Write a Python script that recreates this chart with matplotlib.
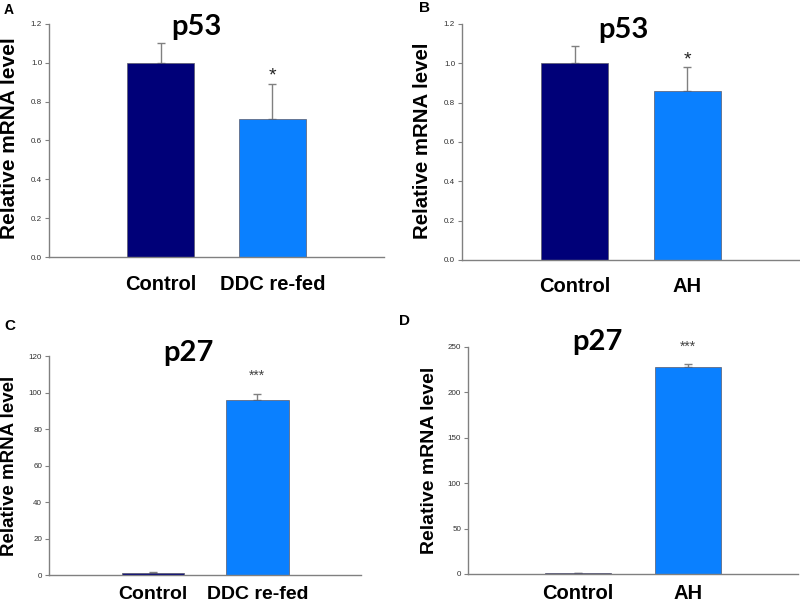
import matplotlib
matplotlib.use("Agg")
import matplotlib.pyplot as plt

# Data
groups_ddc = ["Control", "DDC re-fed"]
groups_ah = ["Control", "AH"]

p53_ddc = [1.0, 0.71]
p53_ddc_err = [0.10, 0.18]
p53_ah = [1.0, 0.86]
p53_ah_err = [0.09, 0.12]

p27_ddc = [1.0, 96.0]
p27_ddc_err = [0.5, 3.0]
p27_ah = [1.0, 228.0]
p27_ah_err = [0.5, 3.5]

stars_a = ["", "*"]
stars_b = ["", "*"]
stars_c = ["", "***"]
stars_d = ["", "***"]

NAVY = "#000078"
BLUE = "#0a80ff"
GRAY = "#808080"

plt.rcParams["font.family"] = ["Liberation Sans", "DejaVu Sans"]

fig = plt.figure(figsize=(8, 6.07), dpi=100)


def panel(rect, groups, vals, errs, stars, ylim, yticks, fmt, star_y, star_size,
          star_color, tick_size, tick_pad):
    ax = fig.add_axes(rect)
    x = list(range(len(groups)))
    ax.bar(x, vals, width=0.6, color=[NAVY, BLUE], edgecolor="#5a5a6a",
           linewidth=0.5, zorder=2)
    ax.errorbar(x, vals, yerr=[[0] * len(errs), errs], fmt="none",
                ecolor=GRAY, elinewidth=1, capsize=3, capthick=1, zorder=1)
    for xi, s in zip(x, stars):
        if s:
            ax.text(xi, star_y, s, ha="center", va="center",
                    fontsize=star_size, color=star_color)
    ax.set_xlim(-1, 2)
    ax.set_ylim(*ylim)
    ax.set_yticks(yticks)
    ax.set_yticklabels([fmt.format(v) for v in yticks], fontsize=5.8,
                       color="#303030")
    ax.set_xticks(x)
    ax.set_xticklabels(groups, fontsize=tick_size, fontweight="bold")
    ax.tick_params(axis="x", length=0, pad=tick_pad)
    ax.tick_params(axis="y", length=3, width=0.8, color=GRAY, direction="out",
                   pad=2)
    for side in ["top", "right"]:
        ax.spines[side].set_visible(False)
    for side in ["left", "bottom"]:
        ax.spines[side].set_color(GRAY)
        ax.spines[side].set_linewidth(1)
    return ax


panel([0.06125, 0.5766, 0.419, 0.3839], groups_ddc, p53_ddc, p53_ddc_err,
      stars_a, (0, 1.2), [0, 0.2, 0.4, 0.6, 0.8, 1.0, 1.2], "{:.1f}",
      0.93, 14, "#222222", 14.5, 13)
panel([0.5775, 0.5717, 0.4225, 0.3888], groups_ah, p53_ah, p53_ah_err,
      stars_b, (0, 1.2), [0, 0.2, 0.4, 0.6, 0.8, 1.0, 1.2], "{:.1f}",
      1.015, 14, "#222222", 14.5, 12)
panel([0.06125, 0.0527, 0.3906, 0.3608], groups_ddc, p27_ddc, p27_ddc_err,
      stars_c, (0, 120), [0, 20, 40, 60, 80, 100, 120], "{:.0f}",
      109, 10, "#444444", 14, 8)
panel([0.585, 0.0544, 0.4125, 0.374], groups_ah, p27_ah, p27_ah_err,
      stars_d, (0, 250), [0, 50, 100, 150, 200, 250], "{:.0f}",
      250, 10, "#444444", 14.5, 7)

# Y axis labels
ylab = "Relative mRNA level"
fig.text(10 / 800, 1 - 138 / 607, ylab, rotation=90, ha="center", va="center",
         fontsize=15, fontweight="bold")
fig.text(422 / 800, 1 - 141 / 607, ylab, rotation=90, ha="center", va="center",
         fontsize=14.7, fontweight="bold")
fig.text(10 / 800, 1 - 466 / 607, ylab, rotation=90, ha="center", va="center",
         fontsize=13.5, fontweight="bold")
fig.text(430 / 800, 1 - 460 / 607, ylab, rotation=90, ha="center", va="center",
         fontsize=14, fontweight="bold")

# Panel titles
title_font = ["Lato", "DejaVu Sans"]
fig.text(196 / 800, 1 - 27 / 607, "p53", ha="center", va="center",
         fontsize=21, fontweight="bold", family=title_font)
fig.text(623 / 800, 1 - 30 / 607, "p53", ha="center", va="center",
         fontsize=21, fontweight="bold", family=title_font)
fig.text(188 / 800, 1 - 353 / 607, "p27", ha="center", va="center",
         fontsize=21, fontweight="bold", family=title_font)
fig.text(597 / 800, 1 - 342 / 607, "p27", ha="center", va="center",
         fontsize=21, fontweight="bold", family=title_font)

# Panel letters
fig.text(9 / 800, 1 - 10 / 607, "A", ha="center", va="center", fontsize=10,
         fontweight="bold")
fig.text(424 / 800, 1 - 8 / 607, "B", ha="center", va="center", fontsize=11,
         fontweight="bold")
fig.text(10 / 800, 1 - 326 / 607, "C", ha="center", va="center", fontsize=11,
         fontweight="bold")
fig.text(404 / 800, 1 - 321 / 607, "D", ha="center", va="center", fontsize=11,
         fontweight="bold")

fig.savefig("out.png", dpi=100)
